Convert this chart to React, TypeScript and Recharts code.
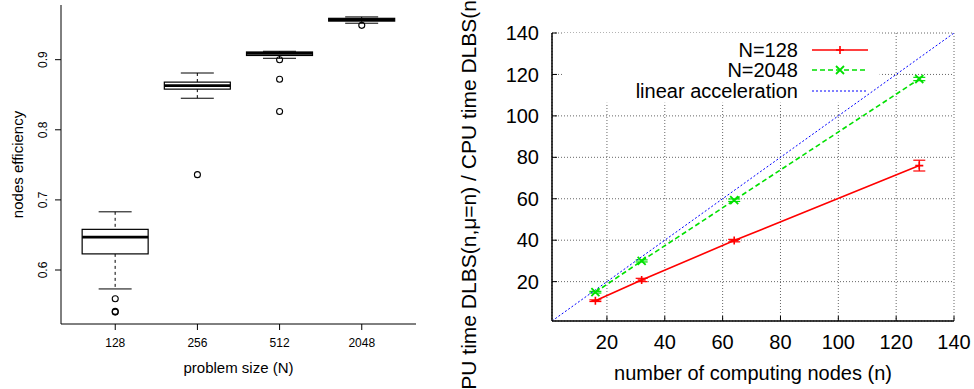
import React from "react"
import {
  Bar,
  CartesianGrid,
  ComposedChart,
  ErrorBar,
  Label,
  Legend,
  Line,
  LineChart,
  ReferenceArea,
  Scatter,
  XAxis,
  YAxis,
} from "recharts"

const FONT = "'Liberation Sans', Arial, Helvetica, sans-serif"

// left panel: nodes efficiency per problem size (box plot)
const sizes = ["128", "256", "512", "2048"]
const lowWhisker = [0.573, 0.845, 0.902, 0.952]
const lowerQuartile = [0.623, 0.858, 0.906, 0.955]
const medians = [0.647, 0.863, 0.909, 0.957]
const upperQuartile = [0.658, 0.868, 0.911, 0.959]
const highWhisker = [0.683, 0.881, 0.912, 0.961]
const outliers = [[0.559, 0.541, 0.54], [0.736], [0.9, 0.872, 0.826], [0.949]]
const effTicks = [0.6, 0.7, 0.8, 0.9]

// right panel: speed-up against number of nodes
const nodes = [16, 32, 64, 128]
const speedup128 = [10.8, 20.8, 39.8, 76.0]
const err128 = [0.4, 0.8, 0.6, 2.6]
const speedup2048 = [14.9, 30.0, 59.3, 117.8]
const err2048 = [0.4, 0.5, 0.6, 0.8]
const linearX = [1, 140]
const speedTicks = [20, 40, 60, 80, 100, 120, 140]

const boxRows = sizes.map((s, i) => ({
  pos: i + 1,
  label: s,
  range: [lowWhisker[i], highWhisker[i]],
  q1: lowerQuartile[i],
  med: medians[i],
  q3: upperQuartile[i],
}))

const outlierRows = outliers.flatMap((vals, i) => vals.map((v) => ({ pos: i + 1, v })))

const rows128 = nodes.map((x, i) => ({ x, y: speedup128[i], err: err128[i] }))
const rows2048 = nodes.map((x, i) => ({ x, y: speedup2048[i], err: err2048[i] }))
const rowsLinear = linearX.map((x) => ({ x, y: x }))

const RED = "#ff0000"
const GREEN = "#00e000"
const BLUE = "#0000ff"

const seriesStyle: Record<string, { color: string; dash?: string; marker?: string }> = {
  "N=128": { color: RED, marker: "plus" },
  "N=2048": { color: GREEN, dash: "5 3", marker: "cross" },
  "linear acceleration": { color: BLUE, dash: "2 2" },
}

// whiskers, box and median from the [low, high] range bar
function BoxShape(props: any) {
  const { x, y, width, height, payload } = props
  const [lo, hi] = payload.range
  const top = Math.min(y, y + height)
  const span = Math.abs(height)
  const py = (v: number) => top + (span * (hi - v)) / (hi - lo)
  const cx = x + width / 2
  const cap = width / 4
  return (
    <g stroke="#000" fill="none">
      <line x1={cx} x2={cx} y1={py(hi)} y2={py(payload.q3)} strokeDasharray="3 3" />
      <line x1={cx} x2={cx} y1={py(payload.q1)} y2={py(lo)} strokeDasharray="3 3" />
      <line x1={cx - cap} x2={cx + cap} y1={py(hi)} y2={py(hi)} />
      <line x1={cx - cap} x2={cx + cap} y1={py(lo)} y2={py(lo)} />
      <rect x={x} y={py(payload.q3)} width={width} height={py(payload.q1) - py(payload.q3)} fill="#fff" strokeWidth={1.2} />
      <line x1={x} x2={x + width} y1={py(payload.med)} y2={py(payload.med)} strokeWidth={2.8} />
    </g>
  )
}

function Ring(props: any) {
  return <circle cx={props.cx} cy={props.cy} r={3} fill="none" stroke="#000" strokeWidth={1.1} />
}

function Plus(props: any) {
  const { cx, cy } = props
  if (cx == null || cy == null) return <g />
  return (
    <path d={`M${cx - 4},${cy}H${cx + 4}M${cx},${cy - 4}V${cy + 4}`} stroke={RED} strokeWidth={1.6} fill="none" />
  )
}

function Cross(props: any) {
  const { cx, cy } = props
  if (cx == null || cy == null) return <g />
  return (
    <path
      d={`M${cx - 4},${cy - 4}L${cx + 4},${cy + 4}M${cx - 4},${cy + 4}L${cx + 4},${cy - 4}`}
      stroke={GREEN}
      strokeWidth={1.8}
      fill="none"
    />
  )
}

function EffBottomTick(props: any) {
  const { x, y, payload } = props
  return (
    <text x={x} y={y} dy="0.35em" textAnchor="middle" fontSize={12} fontFamily={FONT} fill="#000">
      {sizes[payload.value - 1]}
    </text>
  )
}

function EffLeftTick(props: any) {
  const { x, y, payload } = props
  return (
    <text
      x={x}
      y={y}
      dy="0.35em"
      textAnchor="middle"
      fontSize={12}
      fontFamily={FONT}
      fill="#000"
      transform={`rotate(-90, ${x}, ${y})`}
    >
      {payload.value.toFixed(1)}
    </text>
  )
}

function renderLegend(props: any) {
  const { payload } = props
  return (
    <div style={{ fontFamily: FONT, fontSize: 20, color: "#000" }}>
      {(payload || []).map((entry: any) => {
        const st = seriesStyle[entry.value] || { color: entry.color }
        return (
          <div key={entry.value} style={{ display: "flex", alignItems: "center", height: 20.3 }}>
            <span style={{ width: 178, textAlign: "right", whiteSpace: "nowrap", lineHeight: "20px" }}>{entry.value}</span>
            <svg width={56} height={20} style={{ marginLeft: 14 }}>
              <line x1={0} x2={56} y1={10} y2={10} stroke={st.color} strokeWidth={st.marker ? 1.6 : 1} strokeDasharray={st.dash} />
              {st.marker === "plus" && <Plus cx={28} cy={10} />}
              {st.marker === "cross" && <Cross cx={28} cy={10} />}
            </svg>
          </div>
        )
      })}
    </div>
  )
}

function EfficiencyChart() {
  return (
    <ComposedChart width={420} height={389} data={boxRows} margin={{ top: 5, right: 4, bottom: 0, left: 0 }}>
      <XAxis
        type="number"
        dataKey="pos"
        domain={[0.34, 4.66]}
        ticks={[1, 2, 3, 4]}
        height={65}
        tickSize={6}
        tickMargin={13}
        tick={EffBottomTick}
        axisLine={{ stroke: "#000" }}
        tickLine={{ stroke: "#000" }}
        allowDataOverflow
      >
        <Label
          content={({ viewBox }: any) => (
            <text
              x={viewBox.x + viewBox.width / 2}
              y={viewBox.y + 44}
              dy="0.35em"
              textAnchor="middle"
              fontSize={15}
              fontFamily={FONT}
              fill="#000"
            >
              problem size (N)
            </text>
          )}
        />
      </XAxis>
      <XAxis xAxisId="top" orientation="top" type="number" dataKey="pos" domain={[0.34, 4.66]} height={0} tick={false} tickLine={false} axisLine={{ stroke: "#000" }} allowDataOverflow />
      <YAxis
        type="number"
        domain={[0.523, 0.978]}
        ticks={effTicks}
        width={61}
        tickSize={6}
        tickMargin={12}
        tick={EffLeftTick}
        axisLine={{ stroke: "#000" }}
        tickLine={{ stroke: "#000" }}
        allowDataOverflow
      >
        <Label
          content={({ viewBox }: any) => {
            const x = viewBox.x + 18
            const y = viewBox.y + viewBox.height / 2
            return (
              <text x={x} y={y} dy="0.35em" textAnchor="middle" fontSize={15} fontFamily={FONT} fill="#000" transform={`rotate(-90, ${x}, ${y})`}>
                nodes efficiency
              </text>
            )
          }}
        />
      </YAxis>
      <YAxis yAxisId="right" orientation="right" type="number" domain={[0.523, 0.978]} width={0} tick={false} tickLine={false} axisLine={{ stroke: "#000" }} allowDataOverflow />
      <Bar dataKey="range" barSize={66} shape={BoxShape} isAnimationActive={false} />
      <Scatter data={outlierRows} dataKey="v" shape={Ring} isAnimationActive={false} />
    </ComposedChart>
  )
}

function SpeedupChart() {
  return (
    <LineChart width={554} height={389} margin={{ top: 33, right: 20, bottom: 0, left: 0 }}>
      <CartesianGrid stroke="#666" strokeDasharray="1 2" />
      <XAxis
        type="number"
        dataKey="x"
        domain={[1, 140]}
        ticks={speedTicks}
        height={68}
        tickSize={-5}
        tickMargin={19}
        tick={{ fill: "#000", fontSize: 20, fontFamily: FONT }}
        axisLine={{ stroke: "#000", strokeWidth: 1.5 }}
        tickLine={{ stroke: "#000" }}
        allowDataOverflow
      >
        <Label
          content={({ viewBox }: any) => (
            <text
              x={viewBox.x + viewBox.width / 2}
              y={viewBox.y + 52}
              dy="0.35em"
              textAnchor="middle"
              fontSize={20}
              fontFamily={FONT}
              fill="#000"
            >
              number of computing nodes (n)
            </text>
          )}
        />
      </XAxis>
      <XAxis xAxisId="top" orientation="top" type="number" dataKey="x" domain={[1, 140]} ticks={speedTicks} height={0} tickSize={-5} tick={false} axisLine={{ stroke: "#000", strokeWidth: 1.5 }} tickLine={{ stroke: "#000" }} allowDataOverflow />
      <YAxis
        type="number"
        domain={[1, 140]}
        ticks={speedTicks}
        width={132}
        tickSize={-5}
        tickMargin={18}
        tick={{ fill: "#000", fontSize: 20, fontFamily: FONT }}
        axisLine={{ stroke: "#000", strokeWidth: 1.5 }}
        tickLine={{ stroke: "#000" }}
        allowDataOverflow
      >
        <Label
          content={({ viewBox }: any) => {
            const x = viewBox.x + 49
            const y = viewBox.y + viewBox.height / 2 + 1
            return (
              <text x={x} y={y} dy="0.35em" textAnchor="middle" fontSize={21} fontFamily={FONT} fill="#000" transform={`rotate(-90, ${x}, ${y})`}>
                CPU time DLBS(n,μ=n) / CPU time DLBS(n,μ=1)
              </text>
            )
          }}
        />
      </YAxis>
      <YAxis yAxisId="right" orientation="right" type="number" domain={[1, 140]} ticks={speedTicks} width={0} tickSize={-5} tick={false} axisLine={{ stroke: "#000", strokeWidth: 1.5 }} tickLine={{ stroke: "#000" }} allowDataOverflow />
      {/* key background hides the grid behind it */}
      <ReferenceArea x1={4.8} x2={114.3} y1={106.3} y2={140} fill="#fff" fillOpacity={1} stroke="none" />
      <Legend
        layout="vertical"
        verticalAlign="middle"
        align="center"
        content={renderLegend}
        wrapperStyle={{ left: 200, top: 40, width: 260, height: 61 }}
      />
      <Line
        data={rows128}
        dataKey="y"
        name="N=128"
        stroke={RED}
        strokeWidth={1.6}
        dot={(p: any) => <Plus key={`p${p.index}`} cx={p.cx} cy={p.cy} />}
        activeDot={false}
        isAnimationActive={false}
      >
        <ErrorBar dataKey="err" direction="y" width={6} stroke={RED} strokeWidth={1.2} />
      </Line>
      <Line
        data={rows2048}
        dataKey="y"
        name="N=2048"
        stroke={GREEN}
        strokeWidth={1.6}
        strokeDasharray="5 3"
        dot={(p: any) => <Cross key={`c${p.index}`} cx={p.cx} cy={p.cy} />}
        activeDot={false}
        isAnimationActive={false}
      >
        <ErrorBar dataKey="err" direction="y" width={6} stroke={GREEN} strokeWidth={1.2} />
      </Line>
      <Line
        data={rowsLinear}
        dataKey="y"
        name="linear acceleration"
        stroke={BLUE}
        strokeWidth={1}
        strokeDasharray="2 2"
        dot={false}
        activeDot={false}
        isAnimationActive={false}
      />
    </LineChart>
  )
}

export default function App() {
  return (
    <div
      style={{
        position: "absolute",
        left: 0,
        top: 0,
        width: 974,
        height: 389,
        overflow: "hidden",
        background: "#fff",
        display: "flex",
      }}
    >
      <EfficiencyChart />
      <SpeedupChart />
    </div>
  )
}
